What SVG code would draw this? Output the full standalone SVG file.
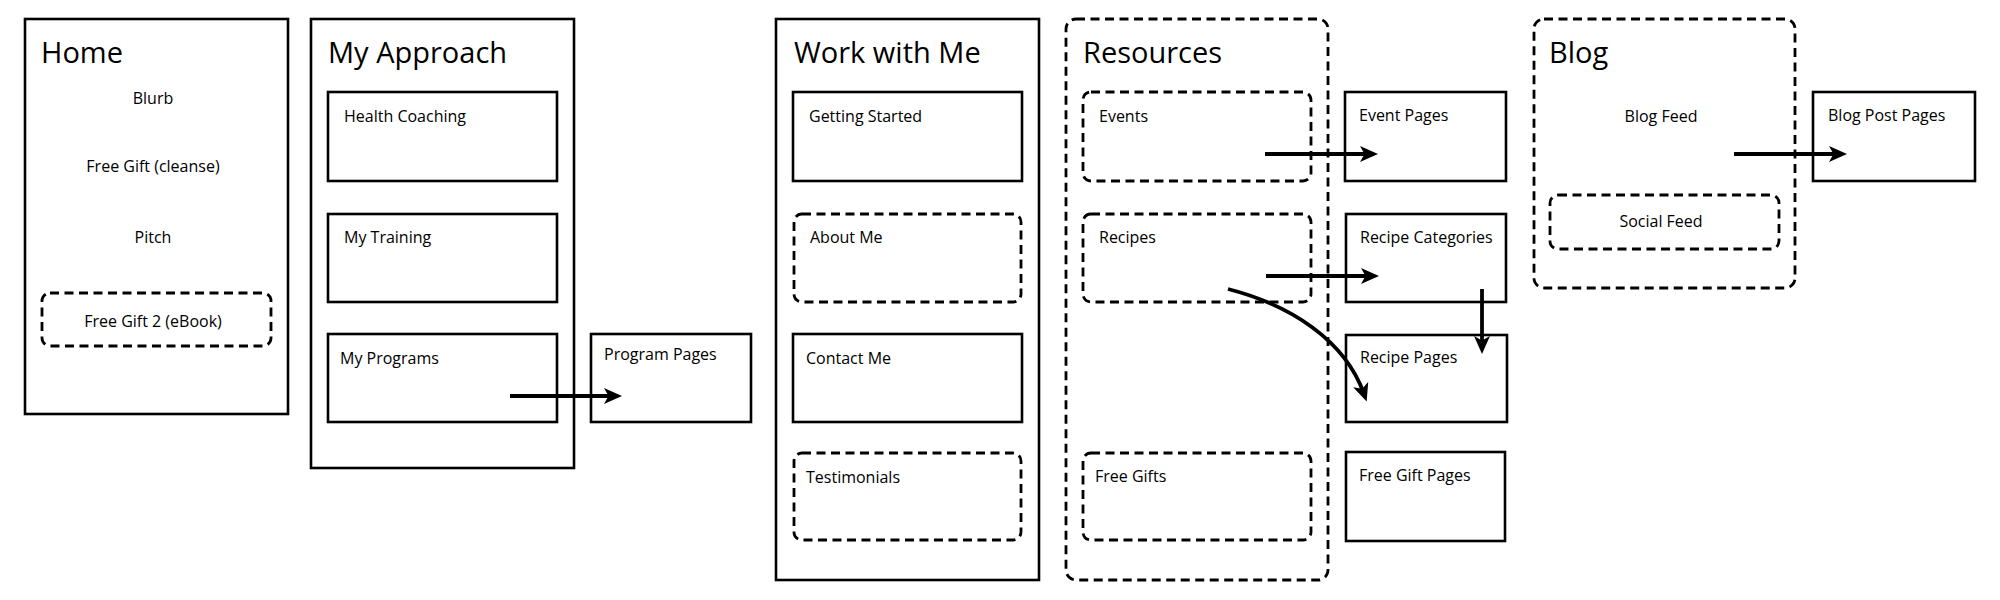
<svg xmlns="http://www.w3.org/2000/svg" width="2000" height="600" viewBox="0 0 2000 600">
<defs>
<style>
.box{fill:#fff;stroke:#000;stroke-width:2.6}
.dash{fill:none;stroke:#000;stroke-width:2.8;stroke-dasharray:9 5.5}
.t{font-family:"Open Sans","Liberation Sans",sans-serif;font-size:16px;fill:#000}
.c{text-anchor:middle}
.h{font-family:"Open Sans","Liberation Sans",sans-serif;font-size:29px;fill:#000}
.edge{fill:none;stroke:#000;stroke-width:3.8;marker-end:url(#arr)}
</style>
<marker id="arr" markerUnits="userSpaceOnUse" markerWidth="18" markerHeight="18" viewBox="0 0 18 18" refX="10" refY="9" orient="auto">
<path d="M0,1 L18,9 L0,17 L4.5,9 Z" fill="#000"/>
</marker>
</defs>
<rect width="2000" height="600" fill="#fff"/>

<g id="home">
<rect class="box" x="25" y="19" width="263" height="395"/>
<text class="h" x="41" y="63">Home</text>
<text class="t c" x="153" y="104">Blurb</text>
<text class="t c" x="153" y="172">Free Gift (cleanse)</text>
<text class="t c" x="153" y="243">Pitch</text>
</g>
<g id="free-gift-2">
<rect class="dash" x="42" y="293" width="229" height="53" rx="8"/>
<text class="t c" x="153" y="327">Free Gift 2 (eBook)</text>
</g>

<g id="my-approach">
<rect class="box" x="311" y="19" width="263" height="449"/>
<text class="h" x="328" y="63">My Approach</text>
</g>
<g id="health-coaching">
<rect class="box" x="328" y="92" width="229" height="89"/>
<text class="t" x="344" y="122">Health Coaching</text>
</g>
<g id="my-training">
<rect class="box" x="328" y="214" width="229" height="88"/>
<text class="t" x="344" y="243">My Training</text>
</g>
<g id="my-programs">
<rect class="box" x="328" y="334" width="229" height="88"/>
<text class="t" x="340" y="364">My Programs</text>
</g>
<g id="program-pages">
<rect class="box" x="591" y="334" width="160" height="88"/>
<text class="t" x="604" y="360">Program Pages</text>
</g>

<g id="work-with-me">
<rect class="box" x="776" y="19" width="263" height="561"/>
<text class="h" x="794" y="63">Work with Me</text>
</g>
<g id="getting-started">
<rect class="box" x="793" y="92" width="229" height="89"/>
<text class="t" x="809" y="122">Getting Started</text>
</g>
<g id="about-me">
<rect class="dash" x="794" y="214" width="227" height="88" rx="8"/>
<text class="t" x="810" y="243">About Me</text>
</g>
<g id="contact-me">
<rect class="box" x="793" y="334" width="229" height="88"/>
<text class="t" x="806" y="364">Contact Me</text>
</g>
<g id="testimonials">
<rect class="dash" x="794" y="453" width="227" height="87" rx="8"/>
<text class="t" x="806" y="483">Testimonials</text>
</g>

<g id="resources">
<rect class="dash" x="1066" y="19" width="262" height="561" rx="10"/>
<text class="h" x="1083" y="63">Resources</text>
</g>
<g id="events">
<rect class="dash" x="1083" y="92" width="228" height="89" rx="8"/>
<text class="t" x="1099" y="122">Events</text>
</g>
<g id="recipes">
<rect class="dash" x="1083" y="214" width="228" height="88" rx="8"/>
<text class="t" x="1099" y="243">Recipes</text>
</g>
<g id="free-gifts">
<rect class="dash" x="1083" y="453" width="228" height="87" rx="8"/>
<text class="t" x="1095" y="482">Free Gifts</text>
</g>

<g id="event-pages">
<rect class="box" x="1345" y="92" width="161" height="89"/>
<text class="t" x="1359" y="121">Event Pages</text>
</g>
<g id="recipe-categories">
<rect class="box" x="1346" y="214" width="160" height="88"/>
<text class="t" x="1360" y="243">Recipe Categories</text>
</g>
<g id="recipe-pages">
<rect class="box" x="1346" y="335" width="161" height="87"/>
<text class="t" x="1360" y="363">Recipe Pages</text>
</g>
<g id="free-gift-pages">
<rect class="box" x="1346" y="452" width="159" height="89"/>
<text class="t" x="1359" y="481">Free Gift Pages</text>
</g>

<g id="blog">
<rect class="dash" x="1534" y="19" width="261" height="269" rx="10"/>
<text class="h" x="1549" y="63">Blog</text>
<text class="t c" x="1661" y="122">Blog Feed</text>
</g>
<g id="social-feed">
<rect class="dash" x="1550" y="195" width="229" height="54" rx="8"/>
<text class="t c" x="1661" y="227">Social Feed</text>
</g>
<g id="blog-post-pages">
<rect class="box" x="1813" y="92" width="162" height="89"/>
<text class="t" x="1828" y="121">Blog Post Pages</text>
</g>

<g id="connectors">
<path class="edge" d="M510,396 L614,396"/>
<path class="edge" d="M1265,154 L1370,154"/>
<path class="edge" d="M1266,276 L1371,276"/>
<path class="edge" d="M1228,289 C1290,305 1345,340 1364,394"/>
<path class="edge" d="M1482,289 L1482,346"/>
<path class="edge" d="M1734,154 L1839,154"/>
</g>
</svg>
